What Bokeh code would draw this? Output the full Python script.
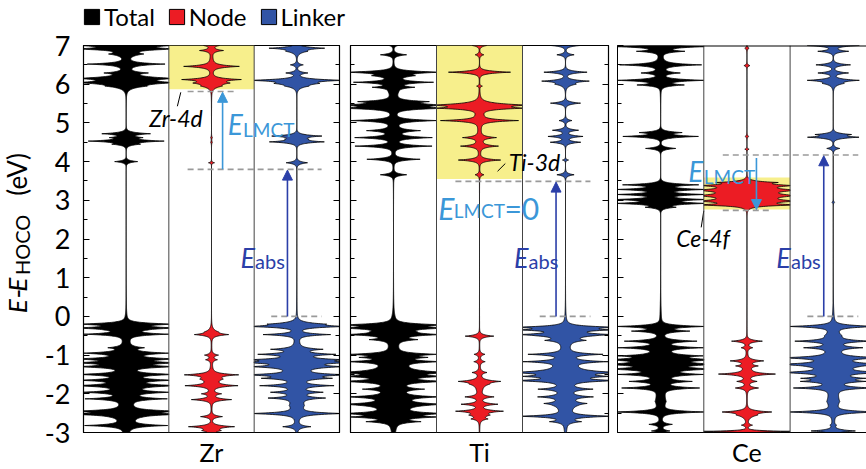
import numpy as np
from bokeh.plotting import figure
from bokeh.layouts import row, column
from bokeh.core.properties import value
from bokeh.models import (Range1d, LinearAxis, SingleIntervalTicker, FixedTicker,
                          Legend, LegendItem, Label, Arrow, NormalHead, Span,
                          CustomJSTickFormatter)
from bokeh.embed import file_html
from bokeh.resources import INLINE

# ---------------- data ----------------
PANELS = ["Zr", "Ti", "Ce"]
COLUMNS = ["Total", "Node", "Linker"]
E_MIN, E_MAX = -3, 7

# DOS peaks: (energy eV, relative height [1 = column edge], width eV)
ZR_TOTAL = [(7.0, 1.0, 0.05), (6.91, 1.0), (6.78, 0.35, 0.06), (6.52, 0.83), (6.29, 0.4),
            (6.15, 1.0, 0.05), (6.04, 1.0, 0.05), (5.95, 0.3, 0.06), (6.45, 0.1, 0.25),
            (4.72, 0.55), (4.62, 0.3), (4.53, 0.84), (4.45, 0.25), (4.0, 0.27, 0.03),
            (-0.2, 1.0), (-0.3, 1.0), (-0.46, 0.87), (-0.81, 0.3), (-0.95, 0.85), (-1.1, 1.0),
            (-1.2, 1.0), (-1.3, 1.0), (-1.5, 1.0), (-1.65, 0.9), (-1.79, 1.0), (-1.96, 0.85),
            (-2.13, 0.8), (-2.45, 1.0), (-2.53, 1.0), (-2.82, 0.85),
            (-0.35, 0.2, 0.12), (-1.0, 0.15, 0.3), (-1.8, 0.22, 0.5), (-2.6, 0.2, 0.3)]
ZR_NODE = [(7.02, 0.3), (6.87, 0.26), (6.46, 0.6), (6.12, 0.6), (6.03, 0.35, 0.06),
           (5.95, 0.15, 0.05), (6.5, 0.06, 0.3),
           (4.62, 0.02), (4.5, 0.02), (3.97, 0.07, 0.02),
           (-0.47, 0.35), (-0.4, 0.12, 0.08), (-1.0, 0.15), (-1.12, 0.12), (-1.51, 0.55),
           (-1.62, 0.2, 0.08), (-1.79, 0.55), (-2.0, 0.2), (-2.15, 0.45), (-2.59, 0.25),
           (-2.85, 0.5), (-2.95, 0.2, 0.06), (-1.7, 0.06, 0.4)]
ZR_LINKER = [(6.93, 0.6), (6.85, 0.2, 0.06), (6.5, 0.15), (6.29, 0.25), (6.1, 1.0),
             (6.02, 0.4, 0.06), (5.95, 0.15, 0.05),
             (4.66, 0.55), (4.51, 0.6), (4.58, 0.15, 0.05), (3.97, 0.25),
             (-0.26, 1.0), (-0.2, 0.5, 0.05), (-0.47, 0.75), (-0.85, 0.5), (-0.98, 0.75),
             (-1.12, 0.8), (-1.19, 1.0), (-1.3, 0.75), (-1.51, 1.0), (-1.6, 0.6), (-1.79, 0.75),
             (-1.96, 0.5), (-2.11, 0.55), (-2.51, 1.0), (-2.85, 0.3),
             (-1.3, 0.3, 0.4), (-2.3, 0.15, 0.3)]
TI_TOTAL = [(7.0, 0.1), (6.76, 0.3), (6.31, 1.0), (6.22, 0.4, 0.06), (6.05, 0.85), (5.92, 0.4),
            (5.46, 1.0, 0.05), (5.38, 1.0), (5.55, 0.6), (5.06, 0.95), (4.8, 0.5), (4.62, 0.82),
            (4.4, 0.85), (4.06, 0.6), (3.66, 0.3), (5.8, 0.1, 0.3), (4.8, 0.12, 0.4),
            (-0.22, 1.0), (-0.3, 1.0), (-0.47, 0.85), (-0.6, 0.4), (-0.98, 0.85), (-1.17, 0.85),
            (-1.06, 0.5), (-1.45, 1.0), (-1.55, 0.8), (-1.68, 1.0), (-1.88, 0.5), (-2.08, 0.85),
            (-2.27, 0.8), (-2.51, 1.0), (-2.6, 0.8), (-2.72, 0.5),
            (-0.4, 0.35, 0.15), (-1.4, 0.4, 0.4), (-2.3, 0.4, 0.3)]
TI_NODE = [(7.02, 0.3), (6.76, 0.1), (6.31, 0.72), (5.95, 0.06, 0.02), (5.46, 1.0, 0.05),
           (5.38, 0.8), (5.06, 0.85), (4.62, 0.35), (4.4, 0.4), (4.04, 0.48), (3.66, 0.1),
           (5.2, 0.08, 0.3), (4.5, 0.05, 0.3),
           (-0.51, 0.33), (-0.98, 0.12), (-1.17, 0.12), (-1.45, 0.15), (-1.68, 0.4),
           (-1.75, 0.15, 0.08), (-2.08, 0.3), (-2.27, 0.4), (-2.45, 0.5), (-2.55, 0.2, 0.06),
           (-2.65, 0.15), (-1.9, 0.05, 0.5)]
TI_LINKER = [(7.02, 0.6), (6.76, 0.2), (6.31, 0.5), (6.08, 0.5), (6.0, 0.2, 0.06), (5.51, 0.35),
             (5.06, 0.15), (4.81, 0.3), (4.65, 0.4), (4.5, 0.35), (4.04, 0.07, 0.02), (3.66, 0.2),
             (-0.28, 1.0), (-0.35, 0.8), (-0.47, 0.8), (-0.62, 0.3), (-0.98, 0.75), (-1.17, 0.8),
             (-1.45, 1.0), (-1.55, 0.7), (-1.66, 1.0), (-1.88, 0.5), (-2.08, 0.5), (-2.25, 0.3),
             (-2.58, 1.0), (-2.72, 0.3),
             (-0.5, 0.3, 0.15), (-1.4, 0.35, 0.35), (-2.3, 0.2, 0.3)]
CE_TOTAL = [(6.97, 1.0), (6.85, 0.5), (6.5, 0.85), (6.29, 0.4), (6.1, 1.0), (5.98, 0.5),
            (6.5, 0.1, 0.3), (4.75, 0.45), (4.65, 0.85), (4.34, 0.35),
            (3.4, 0.85), (3.28, 1.0), (3.15, 1.0), (3.02, 1.0), (2.92, 1.0), (2.82, 0.3),
            (-0.26, 1.0), (-0.38, 0.6), (-0.64, 0.75), (-0.81, 0.85), (-1.02, 0.7), (-1.12, 1.0),
            (-1.24, 1.0), (-1.36, 1.0), (-1.5, 0.8), (-1.68, 0.6), (-1.85, 0.8), (-2.47, 1.0),
            (-2.79, 0.25), (-2.96, 0.2), (-1.2, 0.35, 0.4), (-2.2, 0.1, 0.3)]
CE_NODE = [(6.93, 0.05), (6.48, 0.07, 0.03), (4.65, 0.04), (4.32, 0.05, 0.02),
           (3.46, 0.5, 0.03), (3.38, 0.9, 0.05), (3.26, 1.0, 0.06), (3.12, 1.0, 0.07),
           (2.98, 1.0, 0.06), (2.88, 1.0, 0.03),
           (-0.64, 0.35), (-0.81, 0.12), (-1.15, 0.35), (-1.28, 0.2), (-1.49, 0.6), (-1.68, 0.2),
           (-1.85, 0.25), (-2.47, 0.5), (-2.55, 0.2, 0.08), (-2.81, 0.12), (-2.97, 1.0, 0.02),
           (-1.4, 0.08, 0.3)]
CE_LINKER = [(7.0, 0.6), (6.85, 0.35), (6.5, 0.4), (6.29, 0.35), (6.1, 0.55), (6.02, 0.2, 0.06),
             (4.7, 0.35), (4.63, 0.55), (4.34, 0.15), (2.95, 0.03, 0.03),
             (-0.26, 1.0), (-0.64, 0.75), (-0.81, 0.55), (-1.07, 1.0), (-1.24, 1.0), (-1.45, 1.0),
             (-1.6, 0.5), (-1.68, 0.55), (-1.85, 0.8), (-2.47, 1.0), (-2.81, 0.05), (-2.96, 0.5),
             (-0.5, 0.15, 0.2), (-1.3, 0.4, 0.35), (-2.2, 0.12, 0.3)]

# energy levels (eV)
HOCO_LEVEL = [0.0, 0.0, 0.0]
LUCO_LEVEL = [3.80, 3.49, 4.17]          # linker LUCO (top of E_abs)
METAL_LEVEL = [5.81, 3.49, 2.74]         # node d/f level
HIGHLIGHT = [(5.87, 7.0), (3.55, 7.0), (2.76, 3.59)]
METAL_LABELS = ["Zr-4d", "Ti-3d", "Ce-4f"]

PEAKS = {("Zr", "Total"): ZR_TOTAL, ("Zr", "Node"): ZR_NODE, ("Zr", "Linker"): ZR_LINKER,
         ("Ti", "Total"): TI_TOTAL, ("Ti", "Node"): TI_NODE, ("Ti", "Linker"): TI_LINKER,
         ("Ce", "Total"): CE_TOTAL, ("Ce", "Node"): CE_NODE, ("Ce", "Linker"): CE_LINKER}

COLORS = {"Total": "#000000", "Node": "#EC1C24", "Linker": "#3154A5"}
YELLOW = "#F7EF8C"
LIGHT_BLUE = "#3B97D8"
DARK_BLUE = "#2B3FA8"
GRAY = "#9A9A9A"
FONT = "Lato"

energy = np.linspace(E_MIN, E_MAX, 2001)


def profile(peaks):
    tot = np.zeros_like(energy)
    for pk in peaks:
        w = pk[2] if len(pk) > 2 else 0.035
        tot += pk[1] * np.exp(-np.abs(energy - pk[0]) / w)
    return np.clip(tot, 0, 1)


# layout (page pixels)
PAGE_W = 866
LEGEND_H = 31
TOP, FRAME_H, BOTTOM = 14, 392, 32
HEIGHT = TOP + FRAME_H + BOTTOM
TITLE_W = 40
LAYOUT = [dict(width=304, left=43, right=5, x_end=3.0),
          dict(width=268, left=6, right=4, x_end=3.0),
          dict(width=254, left=5, right=0, x_end=249 / 86.3)]


def style_axis(ax, labels):
    ax.ticker = SingleIntervalTicker(interval=1, num_minor_ticks=2)
    ax.major_tick_in = 6
    ax.major_tick_out = 0
    ax.minor_tick_in = 4
    ax.minor_tick_out = 0
    ax.axis_line_color = "black"
    ax.major_tick_line_color = "black"
    ax.minor_tick_line_color = "black"
    if labels:
        ax.formatter = CustomJSTickFormatter(code="return tick.toFixed(0)")
        ax.major_label_text_font = FONT
        ax.major_label_text_font_size = "27px"
        ax.major_label_text_color = "black"
        ax.major_label_standoff = 13
    else:
        ax.formatter = CustomJSTickFormatter(code="return ''")
        ax.major_label_standoff = 0


def add_label(p, x, y, text, size, color="black", italic=False):
    p.add_layout(Label(x=x, y=y, text=text, text_font=FONT,
                       text_font_size=size, text_color=color,
                       text_font_style="italic" if italic else "normal",
                       text_baseline="alphabetic", text_align="left"))


# ---- strip on top carrying the legend ----
lg = figure(width=PAGE_W, height=LEGEND_H, x_range=Range1d(0, PAGE_W),
            y_range=Range1d(0, LEGEND_H), x_axis_type=None, y_axis_type=None,
            min_border=0, output_backend="svg", toolbar_location=None)
lg.grid.visible = False
lg.outline_line_color = None
legend_items = []
for col in COLUMNS:
    # legend-only renderer: one undefined (NaN) vertex, nothing drawn in the strip itself
    r = lg.patch(x=np.array([np.nan]), y=np.array([np.nan]), fill_color=COLORS[col],
                 line_color="black", line_width=1)
    legend_items.append(LegendItem(label=col, renderers=[r]))
legend = Legend(items=legend_items, orientation="horizontal", location=(82, 0),
                label_text_font=FONT, label_text_font_size="24px", label_text_color="black",
                glyph_width=19, glyph_height=19, label_standoff=3, spacing=12,
                padding=0, margin=0, border_line_color=None, background_fill_alpha=0)
lg.add_layout(legend, "center")

# ---- narrow figure carrying the rotated y-axis title ----
pt = figure(width=TITLE_W, height=HEIGHT, x_range=Range1d(0, TITLE_W),
            y_range=Range1d(E_MIN, E_MAX), x_axis_type=None, y_axis_type=None,
            min_border_left=0, min_border_right=0, min_border_top=TOP,
            min_border_bottom=BOTTOM, output_backend="svg", toolbar_location=None)
pt.grid.visible = False
pt.outline_line_color = None
rot = np.pi / 2
tkw = dict(angle=rot, text_font=value(FONT), text_baseline="alphabetic",
           text_align="left", text_color="black")
pt.text(x=[16, 16], y=[0.08, 0.64], text=["E", "E"], text_font_size=value("26px"),
        text_font_style="italic", **tkw)
pt.text(x=[16], y=[0.46], text=["-"], text_font_size=value("26px"), **tkw)
pt.text(x=[21], y=[1.07], text=["HOCO"], text_font_size=value("20px"), **tkw)
pt.text(x=[16], y=[3.12], text=["(eV)"], text_font_size=value("26px"), **tkw)

figs = [pt]
for i, (name, lay) in enumerate(zip(PANELS, LAYOUT)):
    p = figure(width=lay["width"], height=HEIGHT, title=None,
               x_range=Range1d(0, lay["x_end"]), y_range=Range1d(E_MIN, E_MAX),
               min_border_left=lay["left"], min_border_right=lay["right"],
               min_border_top=TOP, min_border_bottom=BOTTOM,
               output_backend="svg", toolbar_location=None)
    p.grid.visible = False

    style_axis(p.yaxis[0], labels=(i == 0))
    if i < 2:
        p.outline_line_color = "black"
        p.outline_line_width = 1.2
        rax = LinearAxis()
        style_axis(rax, labels=False)
        p.add_layout(rax, "right")
    else:
        p.outline_line_color = None

    xa = p.xaxis[0]
    xa.ticker = FixedTicker(ticks=[1.5])
    xa.major_label_overrides = {1.5: name}
    xa.major_tick_in = 0
    xa.major_tick_out = 0
    xa.minor_tick_line_color = None
    xa.major_label_text_font = FONT
    xa.major_label_text_font_size = "25px"
    xa.major_label_text_color = "black"
    xa.major_label_standoff = 4
    xa.axis_line_color = "black" if i == 2 else None

    # highlighted node states
    lo, hi = HIGHLIGHT[i]
    p.quad(left=1, right=2, bottom=lo, top=hi, fill_color=YELLOW, line_color=None)

    # column dividers
    for xd in (1, 2):
        p.add_layout(Span(location=xd, dimension="height", line_color="#444444", line_width=1))
    if i == 2:
        p.add_layout(Span(location=E_MAX, dimension="width", line_color="black", line_width=2))

    for j, col in enumerate(COLUMNS):
        c = j + 0.5
        hw = 0.5 * profile(PEAKS[(name, col)])
        xs = np.concatenate([c - hw, (c + hw)[::-1]])
        ys = np.concatenate([energy, energy[::-1]])
        p.patch(xs, ys, fill_color=COLORS[col], line_color="black", line_width=0.8)

    # dashed level lines
    luco, metal, hoco = LUCO_LEVEL[i], METAL_LEVEL[i], HOCO_LEVEL[i]
    dash = dict(line_color=GRAY, line_width=1.6, line_dash="6 4")
    p.segment(x0=[2.2], y0=[hoco], x1=[2.79], y1=[hoco], **dash)
    p.segment(x0=[1.22], y0=[luco], x1=[2.79], y1=[luco], **dash)
    if metal != luco:
        p.segment(x0=[1.22], y0=[metal], x1=[1.78], y1=[metal], **dash)

    # E_abs arrow
    p.add_layout(Arrow(end=NormalHead(size=10, fill_color=DARK_BLUE, line_color=DARK_BLUE),
                       x_start=2.39, y_start=hoco, x_end=2.39, y_end=luco - 0.02,
                       line_color=DARK_BLUE, line_width=1.6))
    add_label(p, 1.84 if i != 1 else 1.9, 1.52, "E", "27px", DARK_BLUE, italic=True)
    add_label(p, 2.01 if i != 1 else 2.07, 1.42, "abs", "20px", DARK_BLUE)

    # E_LMCT arrow / label
    if i == 0:
        p.add_layout(Arrow(end=NormalHead(size=10, fill_color=LIGHT_BLUE, line_color=LIGHT_BLUE),
                           x_start=1.63, y_start=luco, x_end=1.63, y_end=metal - 0.02,
                           line_color=LIGHT_BLUE, line_width=1.6))
        add_label(p, 1.69, 4.97, "E", "28px", LIGHT_BLUE, italic=True)
        add_label(p, 1.87, 4.82, "LMCT", "19px", LIGHT_BLUE)
        add_label(p, 0.77, 5.12, METAL_LABELS[i], "23px", italic=True)
        p.segment(x0=[1.14], y0=[5.79], x1=[1.10], y1=[5.43], line_color="black", line_width=1)
    elif i == 1:
        add_label(p, 1.02, 2.81, "E", "30px", LIGHT_BLUE, italic=True)
        add_label(p, 1.20, 2.73, "LMCT", "19px", LIGHT_BLUE)
        add_label(p, 1.79, 2.81, "=0", "30px", LIGHT_BLUE)
        add_label(p, 1.84, 3.98, METAL_LABELS[i], "23px", italic=True)
        p.segment(x0=[1.71], y0=[3.75], x1=[1.80], y1=[3.95], line_color="black", line_width=1)
    else:
        p.add_layout(Arrow(end=NormalHead(size=10, fill_color=LIGHT_BLUE, line_color=LIGHT_BLUE),
                           x_start=1.61, y_start=luco - 0.08, x_end=1.61, y_end=metal + 0.02,
                           line_color=LIGHT_BLUE, line_width=1.6))
        add_label(p, 0.82, 3.75, "E", "28px", LIGHT_BLUE, italic=True)
        add_label(p, 1.0, 3.62, "LMCT", "19px", LIGHT_BLUE)
        add_label(p, 0.68, 2.03, METAL_LABELS[i], "23px", italic=True)
        p.segment(x0=[1.0], y0=[2.73], x1=[0.97], y1=[2.30], line_color="black", line_width=1)

    figs.append(p)

layout = column(lg, row(*figs))
open("out.html", "w").write(file_html(layout, INLINE))
